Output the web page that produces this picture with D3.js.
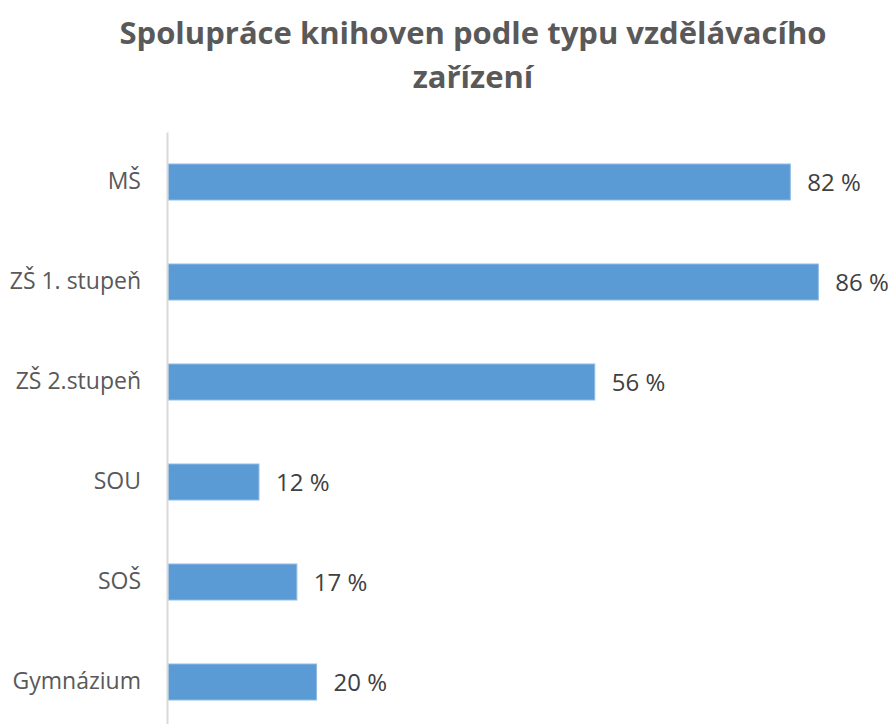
<!DOCTYPE html>
<html>
<head>
<meta charset="utf-8">
<script src="https://cdn.jsdelivr.net/npm/d3@7"></script>
<style>
  body { margin: 0; background: #fff; }
  text { font-family: "Open Sans", "Noto Sans", sans-serif; }
</style>
</head>
<body>
<div id="chart"></div>
<script>
// Chart data
const categories = ["MŠ", "ZŠ 1. stupeň", "ZŠ 2.stupeň", "SOU", "SOŠ", "Gymnázium"];
const values = [0.821, 0.858, 0.563, 0.12, 0.17, 0.196];
const titleLines = ["Spolupráce knihoven podle typu vzdělávacího", "zařízení"];

const width = 891;
const height = 724;

const svg = d3.select("#chart")
  .append("svg")
  .attr("width", width)
  .attr("height", height);

// Scales
const xScale = d3.scaleLinear()
  .domain([0, 1])
  .range([168, 926]);

const yScale = d3.scaleBand()
  .domain(categories)
  .range([132, 732])
  .paddingInner(0.64)
  .paddingOuter(0.32);

// Bars
svg.selectAll(".bar")
  .data(values)
  .enter()
  .append("rect")
  .attr("class", "bar")
  .attr("x", xScale(0))
  .attr("y", (d, i) => yScale(categories[i]))
  .attr("width", d => xScale(d) - xScale(0))
  .attr("height", yScale.bandwidth())
  .attr("fill", "#5b9bd5")
  .attr("stroke", "#8fbbe3")
  .attr("stroke-width", 1);

// Vertical axis line and category labels
const yAxis = d3.axisLeft(yScale).tickSize(0).tickPadding(26);
const axisG = svg.append("g")
  .attr("transform", `translate(${xScale(0) - 1}, 0)`)
  .call(yAxis);
axisG.select(".domain")
  .attr("stroke", "#d9d9d9")
  .attr("stroke-width", 2);
axisG.selectAll("text")
  .attr("font-family", "Open Sans")
  .attr("font-size", 23)
  .attr("fill", "#595959");

// Value labels
svg.selectAll(".value-label")
  .data(values)
  .enter()
  .append("text")
  .attr("class", "value-label")
  .attr("x", d => xScale(d) + 17)
  .attr("y", (d, i) => yScale(categories[i]) + yScale.bandwidth() / 2)
  .attr("dy", "0.36em")
  .attr("font-size", 24)
  .attr("fill", "#404040")
  .text(d => Math.round(d * 100) + " %");

// Title
svg.selectAll(".title")
  .data(titleLines)
  .enter()
  .append("text")
  .attr("class", "title")
  .attr("x", 473)
  .attr("y", (d, i) => 44 + i * 44)
  .attr("text-anchor", "middle")
  .attr("font-size", 31)
  .attr("font-weight", "bold")
  .attr("fill", "#595959")
  .text(d => d);
</script>
</body>
</html>
